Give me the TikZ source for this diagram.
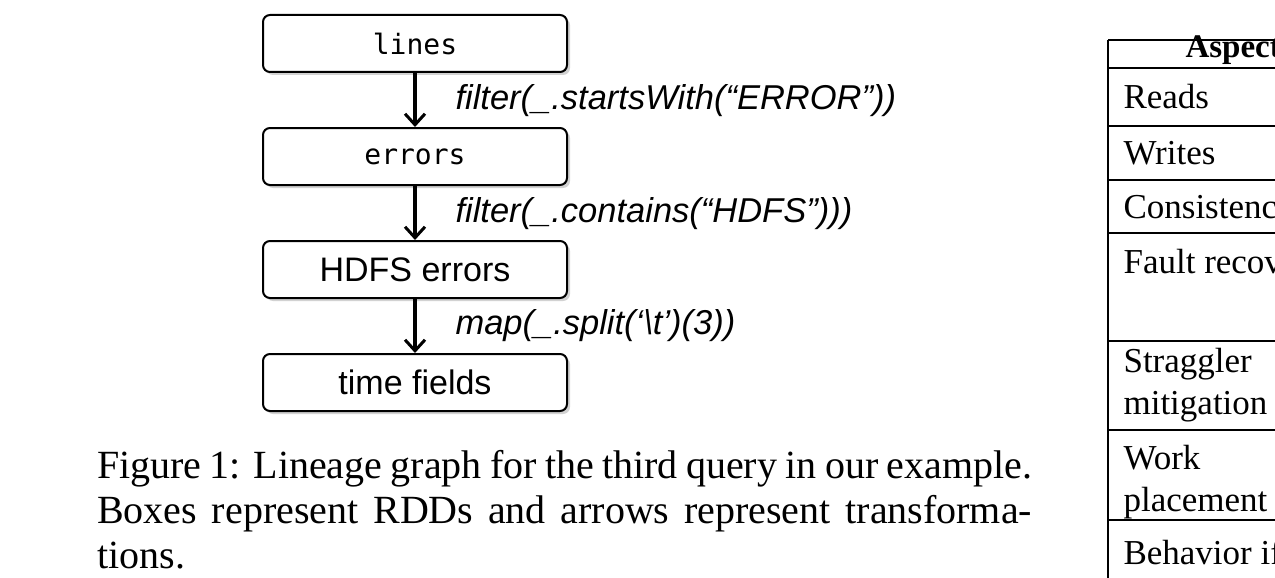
\documentclass[tikz,border=0pt]{standalone}
\usepackage{fontspec}
\setmainfont{Liberation Serif}
\setsansfont{Liberation Sans}
\setmonofont{DejaVu Sans Mono}
\usetikzlibrary{shadows,arrows.meta}
\begin{document}
\begin{tikzpicture}[x=1pt,y=-1pt,
  box/.style={draw,line width=2pt,rounded corners=7pt,minimum width=304pt,minimum height=57pt,fill=white,drop shadow={shadow xshift=3pt,shadow yshift=-3pt,fill=black!35}},
  lbl/.style={anchor=west,font=\sffamily\itshape\fontsize{34.5}{40}\selectfont},
  arr/.style={-{Straight Barb[length=11pt,width=20pt,line width=3pt]},line width=3.5pt},
  cell/.style={anchor=base west,font=\fontsize{35}{42}\selectfont}]
\useasboundingbox (0,0) rectangle (1275,578);
\clip (0,0) rectangle (1275,578);
\node[box,font=\ttfamily\fontsize{28}{32}\selectfont] (b1) at (415,43.5) {lines};
\node[box,font=\ttfamily\fontsize{28}{32}\selectfont] (b2) at (415,156.5) {errors};
\node[box,font=\sffamily\fontsize{34}{38}\selectfont] (b3) at (415,269.5) {HDFS errors};
\node[box,font=\sffamily\fontsize{34}{38}\selectfont] (b4) at (415,382.5) {time fields};
\draw[arr] (b1.south) -- (b2.north);
\draw[arr] (b2.south) -- (b3.north);
\draw[arr] (b3.south) -- (b4.north);
\node[lbl] (l1) at (452,101) {filter(\_.startsWith(“ERROR”))};
\node[lbl] (l2) at (452,214) {filter(\_.contains(“HDFS”)))};
\node[lbl] (l3) at (452,326) {map(\_.split(‘\textbackslash t’)(3))};
\node[anchor=north west,text width=935pt,align=justify,inner sep=0pt,font=\fontsize{40}{45}\selectfont] (cap) at (97,450)
 {Figure 1: Lineage graph for the third query in our example.\\ Boxes represent RDDs and arrows represent transformations.};
% table
\draw[line width=1.5pt] (1108,40) -- (1108,578);
\foreach \y in {40,68,126,180,233,341,430,520} \draw[line width=1.5pt] (1108,\y) -- (1280,\y);
\node[cell,font=\bfseries\fontsize{33}{40}\selectfont] (h) at (1182,58) {Aspect};
\node[cell] (r1) at (1120,108) {Reads};
\node[cell] (r2) at (1120,164) {Writes};
\node[cell] (r3) at (1120,218) {Consistency};
\node[cell] (r4) at (1120,273) {Fault recovery};
\node[cell] (r5) at (1120,372) {Straggler};
\node[cell] (r5b) at (1120,414) {mitigation};
\node[cell] (r6) at (1120,469) {Work};
\node[cell] (r6b) at (1120,511) {placement};
\node[cell] (r7) at (1120,564) {Behavior if};
\end{tikzpicture}
\end{document}
